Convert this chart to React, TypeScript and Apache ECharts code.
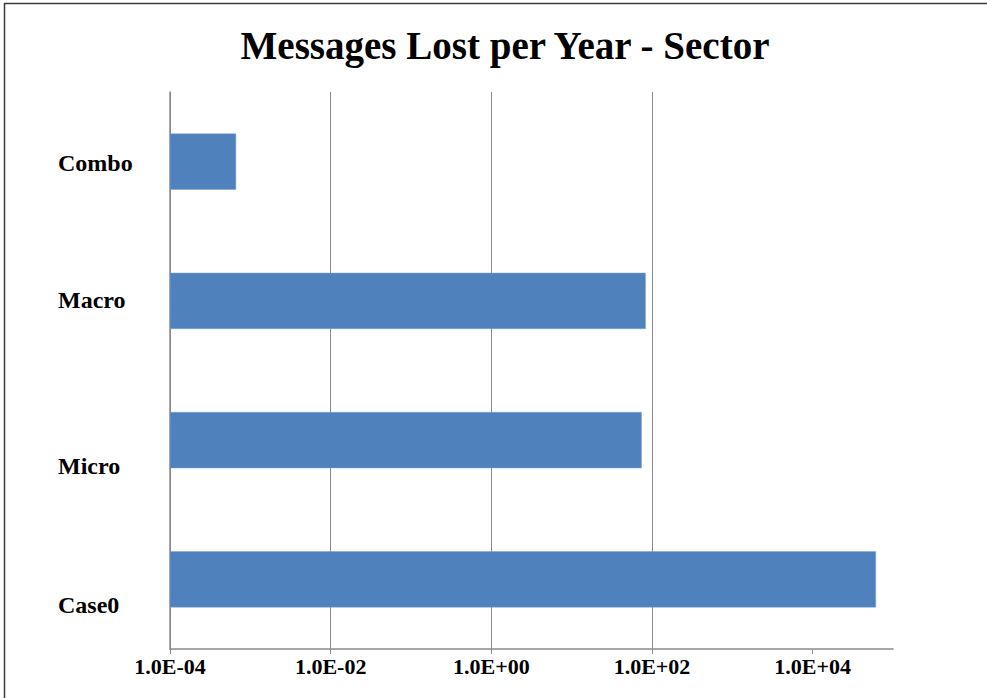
import React, { useEffect, useRef } from "react";
import * as echarts from "echarts";

const categories = ["Case0", "Micro", "Macro", "Combo"];
const values = [6.1e4, 74, 83, 6.6e-4];
const tickValues = [1e-4, 1e-2, 1, 1e2, 1e4];
const axisMin = 1e-4;
const axisMax = 1e5;
const labelOffsets: Record<string, number> = { Case0: 26, Micro: 26, Macro: -1, Combo: 1.5 };

function fmtExp(v: number): string {
  const s = v.toExponential(1);
  const [m, e] = s.split("e");
  const n = parseInt(e, 10);
  const sign = n < 0 ? "-" : "+";
  const abs = Math.abs(n);
  return `${m}E${sign}${abs < 10 ? "0" + abs : abs}`;
}

export default function App() {
  const ref = useRef<HTMLDivElement>(null);
  useEffect(() => {
    if (!ref.current) return;
    const chart = echarts.init(ref.current, null, { renderer: "svg" });
    const rich: Record<string, any> = {};
    categories.forEach((c) => {
      const off = labelOffsets[c];
      rich[c] = {
        fontFamily: "Liberation Serif",
        fontWeight: "bold",
        fontSize: 24,
        color: "#000",
        padding: off >= 0 ? [off * 2, 0, 0, 0] : [0, 0, -off * 2, 0],
      };
    });
    const barData = categories.map((c, i) => [values[i], c]);
    chart.setOption({
      animation: false,
      backgroundColor: "#fff",
      title: {
        text: "Messages Lost per Year - Sector",
        left: 500,
        textAlign: "center",
        top: 21,
        textStyle: {
          fontFamily: "Liberation Serif",
          fontWeight: "bold",
          fontSize: 39,
          color: "#000",
        },
      },
      graphic: [
        {
          type: "rect",
          shape: { x: 4.5, y: 3.5, width: 1000, height: 1000 },
          style: { fill: "none", stroke: "#3a3a3a", lineWidth: 1.5 },
          silent: true,
          z: 100,
        },
      ],
      grid: { left: 170, right: 94, top: 92, bottom: 49, containLabel: false },
      xAxis: {
        type: "log",
        logBase: 10,
        min: axisMin,
        max: axisMax,
        interval: 2,
        axisLine: { show: true, lineStyle: { color: "#8a8a8a", width: 1.5 } },
        axisTick: { show: true, length: 5, customValues: tickValues, lineStyle: { color: "#8a8a8a" } },
        splitLine: { show: true, showMaxLine: false, lineStyle: { color: "#8a8a8a", width: 1 } },
        axisLabel: {
          customValues: tickValues,
          margin: 6,
          formatter: (v: number) => fmtExp(v),
          fontFamily: "Liberation Serif",
          fontWeight: "bold",
          fontSize: 22,
          color: "#000",
        },
      },
      yAxis: {
        type: "category",
        data: categories,
        axisLine: { show: true, lineStyle: { color: "#8a8a8a", width: 1.5 } },
        axisTick: { show: false },
        splitLine: { show: false },
        axisLabel: {
          align: "left",
          margin: 112,
          formatter: (v: string) => `{${v}|${v}}`,
          rich,
        },
      },
      series: [
        {
          type: "custom",
          data: barData,
          encode: { x: 0, y: 1 },
          z: 3,
          renderItem: (params: any, api: any) => {
            const v = api.value(0);
            const cat = api.value(1);
            const end = api.coord([v, cat]);
            const start = api.coord([axisMin, cat]);
            const band = api.size([0, 1])[1];
            const h = band * 0.4;
            return {
              type: "rect",
              shape: { x: start[0], y: end[1] - h / 2, width: end[0] - start[0], height: h },
              style: { fill: "#4F81BD", stroke: "#7FA3D0", lineWidth: 0.5 },
            };
          },
        },
      ],
    });
    return () => chart.dispose();
  }, []);
  return (
    <div
      ref={ref}
      style={{ position: "fixed", left: 0, top: 0, width: 987, height: 698 }}
    />
  );
}
